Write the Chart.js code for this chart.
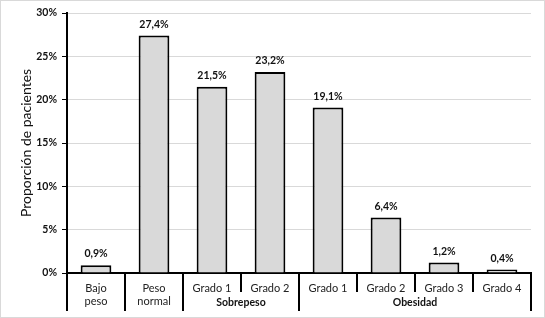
<!DOCTYPE html>
<html>
<head>
<meta charset="utf-8">
<script src="https://cdn.jsdelivr.net/npm/chart.js@4.4.1/dist/chart.umd.min.js"></script>
<style>
  html, body { margin: 0; padding: 0; background: #fff; }
  #wrap { width: 545px; height: 318px; position: relative; }
</style>
</head>
<body>
<div id="wrap"><canvas id="barChart"></canvas></div>
<script>
// categories and values (percent of patients)
const categories = [["Bajo", "peso"], ["Peso", "normal"], "Grado 1", "Grado 2", "Grado 1", "Grado 2", "Grado 3", "Grado 4"];
const values = [0.9, 27.4, 21.5, 23.2, 19.1, 6.4, 1.2, 0.4];
// groups: label, first index, last index
const groupNames = ["", "", "Sobrepeso", "Obesidad"];
const groupStart = [0, 1, 2, 4];
const groupEnd = [0, 1, 3, 7];
const yTicks = [0, 5, 10, 15, 20, 25, 30];

const FONT = "Lato, 'Open Sans', sans-serif";

function fmt(v) {
  return v.toFixed(1).replace(".", ",") + "%";
}

// value labels above the bars
const barLabels = {
  id: "barLabels",
  afterDatasetsDraw(chart) {
    const ctx = chart.ctx;
    const meta = chart.getDatasetMeta(0);
    ctx.save();
    ctx.font = "bold 10.5px " + FONT;
    ctx.fillStyle = "#111";
    ctx.textAlign = "center";
    ctx.textBaseline = "bottom";
    meta.data.forEach((bar, i) => {
      ctx.fillText(fmt(values[i]), bar.x, bar.y - 6);
    });
    ctx.restore();
  }
};

// category separators, group names and outer border
const groupAxis = {
  id: "groupAxis",
  afterDraw(chart) {
    const ctx = chart.ctx;
    const x = chart.scales.x;
    const area = chart.chartArea;
    const half = (x.getPixelForValue(1) - x.getPixelForValue(0)) / 2;
    ctx.save();
    ctx.strokeStyle = "#000";
    ctx.lineWidth = 2;
    // boundaries between categories
    for (let i = 0; i <= categories.length; i++) {
      const px = x.getPixelForValue(0) - half + i * half * 2;
      const isGroupEdge = groupStart.includes(i) || i === categories.length;
      ctx.beginPath();
      ctx.moveTo(px, area.bottom);
      ctx.lineTo(px, isGroupEdge ? area.bottom + 38 : area.bottom + 19);
      ctx.stroke();
    }
    ctx.font = "bold 10.5px " + FONT;
    ctx.fillStyle = "#111";
    ctx.textAlign = "center";
    ctx.textBaseline = "middle";
    groupNames.forEach((name, g) => {
      if (!name) return;
      const cx = (x.getPixelForValue(groupStart[g]) + x.getPixelForValue(groupEnd[g])) / 2;
      ctx.fillText(name, cx, area.bottom + 30);
    });
    ctx.strokeStyle = "#d9d9d9";
    ctx.lineWidth = 1;
    ctx.strokeRect(0.5, 0.5, chart.width - 1, chart.height - 1);
    ctx.restore();
  }
};

new Chart(document.getElementById("barChart"), {
  type: "bar",
  data: {
    labels: categories,
    datasets: [{
      data: values,
      backgroundColor: "#d9d9d9",
      borderColor: "#000",
      borderWidth: 2,
      borderSkipped: "bottom",
      barPercentage: 0.53,
      categoryPercentage: 1
    }]
  },
  options: {
    responsive: true,
    maintainAspectRatio: false,
    animation: false,
    layout: { padding: { top: 13, right: 14, left: 0, bottom: 0 } },
    plugins: {
      legend: { display: false },
      tooltip: { enabled: false }
    },
    scales: {
      x: {
        grid: { display: false },
        border: { color: "#000", width: 2 },
        ticks: {
          color: "#222",
          font: { family: FONT, size: 11 },
          padding: 1,
          maxRotation: 0,
          autoSkip: false
        },
        afterFit: (scale) => { scale.height = 45; }
      },
      y: {
        min: 0,
        max: 30,
        afterBuildTicks: (scale) => { scale.ticks = yTicks.map(v => ({ value: v })); },
        grid: { color: "#d9d9d9", tickColor: "#000", tickLength: 5, drawTicks: true },
        border: { color: "#000", width: 2 },
        ticks: {
          color: "#111",
          font: { family: FONT, size: 10.5, weight: "bold" },
          padding: 5,
          callback: (v) => v + "%"
        },
        title: {
          display: true,
          text: "Proporción de pacientes",
          color: "#111",
          font: { family: FONT, size: 14 },
          padding: { top: 18, bottom: 0 }
        },
        afterFit: (scale) => { scale.width = 67; }
      }
    }
  },
  plugins: [barLabels, groupAxis]
});
</script>
</body>
</html>
